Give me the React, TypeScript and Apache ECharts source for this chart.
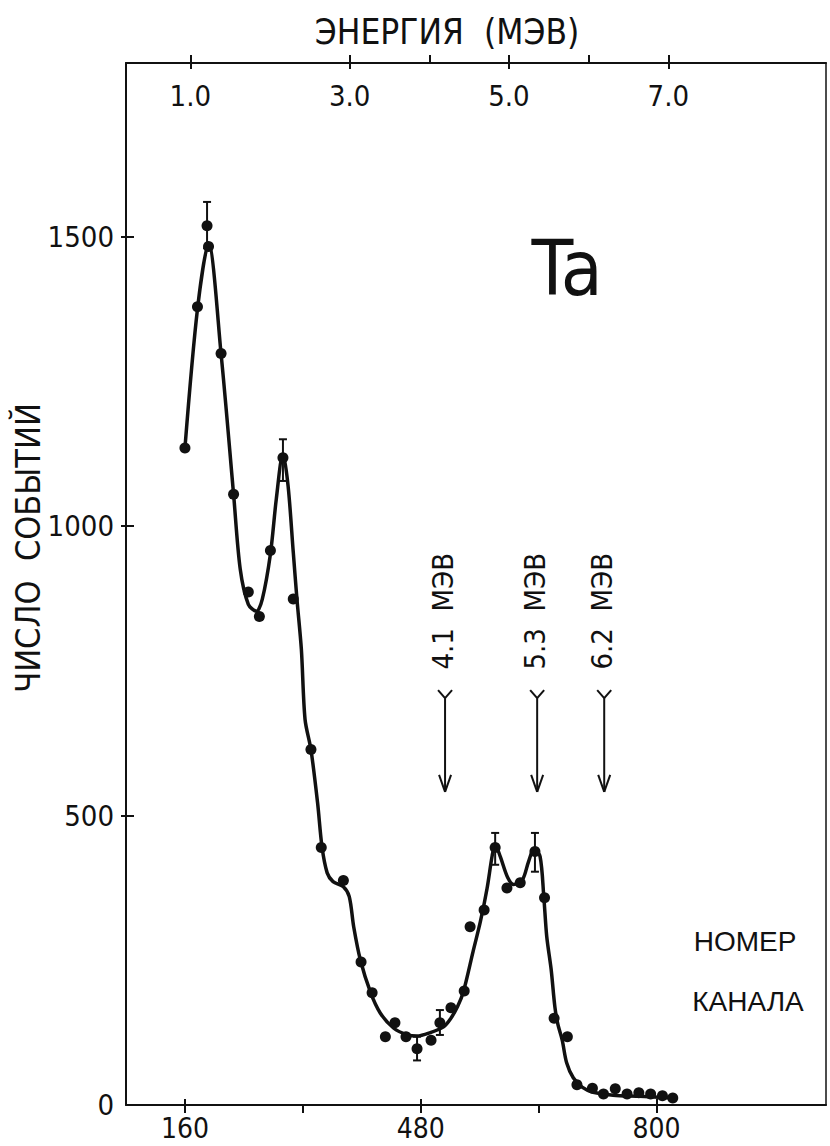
import React, { useEffect, useRef } from "react";
import * as echarts from "echarts";

// Axis ticks / labels
const channelTicks = [160, 320, 480, 640, 800];
const channelLabels = [160, 480, 800];
const energyTicks = [1, 3, 4, 5, 6, 7];
const energyLabels = [1, 3, 5, 7];
const countTicks = [500, 1000, 1500];
const countLabels = [0, 500, 1000, 1500];

// Measured points (channel number, number of events)
const pointChannels = [160, 177, 190, 192, 209, 226, 246, 261, 276, 293, 307, 331, 345, 375, 399, 414, 432, 445, 460, 475, 494, 506, 521, 539, 547, 566, 581, 597, 615, 635, 648, 661, 679, 692, 713, 728, 744, 760, 776, 792, 808, 822];
const pointCounts = [1135, 1379, 1519, 1483, 1298, 1055, 886, 844, 958, 1118, 874, 614, 445, 388, 247, 194, 118, 142, 118, 97, 112, 142, 168, 197, 308, 337, 445, 375, 384, 438, 358, 150, 118, 35, 29, 19, 28, 19, 21, 19, 16, 12];

// Fitted curve (hand-drawn in the original)
const curveChannels = [160, 177, 192, 209, 226, 235, 246, 257, 265, 276, 284, 293, 300, 307, 312, 318, 323, 331, 340, 346, 353, 361, 375, 383, 389, 398, 412, 425, 443, 462, 475, 493, 511, 520, 530, 538, 551, 561, 570, 577, 581, 588, 598, 606, 618, 626, 634, 642, 647, 651, 657, 662, 666, 672, 678, 687, 699, 714, 741, 777, 822];
const curveCounts = [1135, 1375, 1488, 1298, 1055, 926, 865, 853, 874, 952, 1047, 1125, 1069, 955, 874, 787, 666, 614, 522, 446, 401, 386, 377, 360, 308, 251, 194, 159, 133, 121, 119, 125, 135, 148, 170, 196, 265, 317, 374, 431, 450, 429, 393, 381, 389, 419, 443, 429, 360, 291, 234, 170, 140, 112, 73, 47, 31, 22, 17, 15, 12];

// Error bars
const errChannels = [190, 293, 475, 506, 581, 635];
const errLow = [1480, 1078, 77, 121, 415, 403];
const errHigh = [1560, 1150, 118, 164, 470, 470];

// Energy markers (arrows)
const arrowChannels = [513, 638, 729];
const arrowLabels = ["4.1  МЭВ", "5.3  МЭВ", "6.2  МЭВ"];
const arrowTop = 703;
const arrowBottom = 541;
const arrowLabelCenter = 853;

const FONT = "'DejaVu Sans Condensed', 'Liberation Sans Narrow', 'DejaVu Sans', sans-serif";
const FONT2 = "'Liberation Sans', 'DejaVu Sans', sans-serif";
const INK = "#111";

export default function App() {
  const ref = useRef<HTMLDivElement>(null);
  useEffect(() => {
    if (!ref.current) return;
    const chart = echarts.init(ref.current, undefined, { renderer: "svg" });

    const axisBase = {
      type: "value" as const,
      min: 80,
      max: 1030,
      splitLine: { show: false },
    };

    const option: any = {
      animation: false,
      backgroundColor: "#fff",
      grid: { left: 126, right: 4, top: 63, bottom: 41 },
      xAxis: [
        {
          ...axisBase,
          position: "bottom",
          axisLine: { show: true, onZero: false, lineStyle: { color: INK, width: 2 } },
          axisTick: { show: true, customValues: channelTicks, length: 8, lineStyle: { color: INK, width: 2 } },
          axisLabel: { customValues: channelLabels, fontSize: 28, fontFamily: FONT, color: INK, margin: 9, formatter: (v: number) => String(v) },
        },
        {
          ...axisBase,
          position: "bottom",
          axisLine: { show: false, onZero: false },
          axisTick: { show: true, inside: true, customValues: channelLabels, length: 6, lineStyle: { color: INK, width: 2 } },
          axisLabel: { show: false },
        },
        {
          type: "value",
          min: 0.193,
          max: 8.98,
          position: "top",
          splitLine: { show: false },
          axisLine: { show: true, onZero: false, lineStyle: { color: INK, width: 2 } },
          axisTick: { show: true, customValues: energyTicks, length: 8, lineStyle: { color: INK, width: 2 } },
          axisLabel: {
            inside: true,
            customValues: energyLabels,
            formatter: (v: number) => v.toFixed(1),
            fontSize: 29,
            fontFamily: FONT,
            color: INK,
            margin: 18,
          },
        },
        {
          type: "value",
          min: 0.193,
          max: 8.98,
          position: "top",
          splitLine: { show: false },
          axisLine: { show: false, onZero: false },
          axisTick: { show: true, inside: true, customValues: energyLabels, length: 6, lineStyle: { color: INK, width: 2 } },
          axisLabel: { show: false },
        },
      ],
      yAxis: [
        {
          type: "value",
          min: 0,
          max: 1800,
          position: "left",
          splitLine: { show: false },
          axisLine: { show: true, onZero: false, lineStyle: { color: INK, width: 2 } },
          axisTick: { show: true, customValues: countTicks, length: 5, lineStyle: { color: INK, width: 2 } },
          axisLabel: { customValues: countLabels, fontSize: 29, fontFamily: FONT, color: INK, margin: 12, formatter: (v: number) => String(v) },
        },
        {
          type: "value",
          min: 0,
          max: 1800,
          position: "left",
          splitLine: { show: false },
          axisLine: { show: false, onZero: false },
          axisTick: { show: true, inside: true, customValues: countTicks, length: 8, lineStyle: { color: INK, width: 2 } },
          axisLabel: { show: false },
        },
        {
          type: "value",
          min: 0,
          max: 1800,
          position: "right",
          splitLine: { show: false },
          axisLine: { show: true, onZero: false, lineStyle: { color: INK, width: 1.5 } },
          axisTick: { show: false },
          axisLabel: { show: false },
        },
      ],
      series: [
        {
          type: "line",
          xAxisIndex: 0,
          yAxisIndex: 0,
          data: curveChannels.map((c, i) => [c, curveCounts[i]]),
          smooth: 0.3,
          showSymbol: false,
          symbol: "none",
          lineStyle: { color: INK, width: 3.5 },
          z: 2,
        },
        {
          type: "scatter",
          xAxisIndex: 0,
          yAxisIndex: 0,
          data: pointChannels.map((c, i) => [c, pointCounts[i]]),
          symbol: "circle",
          symbolSize: 11,
          itemStyle: { color: INK, opacity: 1 },
          z: 3,
        },
        {
          type: "custom",
          xAxisIndex: 0,
          yAxisIndex: 0,
          data: errChannels.map((c, i) => [c, errLow[i], errHigh[i]]),
          renderItem: (params: any, api: any) => {
            const lo = api.coord([api.value(0), api.value(1)]);
            const hi = api.coord([api.value(0), api.value(2)]);
            const w = 4;
            const st = { stroke: INK, lineWidth: 2 };
            return {
              type: "group",
              children: [
                { type: "line", shape: { x1: lo[0], y1: lo[1], x2: hi[0], y2: hi[1] }, style: st },
                { type: "line", shape: { x1: lo[0] - w, y1: lo[1], x2: lo[0] + w, y2: lo[1] }, style: st },
                { type: "line", shape: { x1: hi[0] - w, y1: hi[1], x2: hi[0] + w, y2: hi[1] }, style: st },
              ],
            };
          },
          z: 4,
        },
        {
          type: "custom",
          xAxisIndex: 0,
          yAxisIndex: 0,
          data: arrowChannels.map((c) => [c, arrowTop, arrowBottom, arrowLabelCenter]),
          renderItem: (params: any, api: any) => {
            const top = api.coord([api.value(0), api.value(1)]);
            const bot = api.coord([api.value(0), api.value(2)]);
            const lab = api.coord([api.value(0), api.value(3)]);
            const st = { stroke: INK, lineWidth: 2 };
            const x = top[0];
            return {
              type: "group",
              children: [
                { type: "line", shape: { x1: x, y1: top[1], x2: x, y2: bot[1] }, style: st },
                { type: "line", shape: { x1: x, y1: top[1], x2: x - 7, y2: top[1] - 8 }, style: st },
                { type: "line", shape: { x1: x, y1: top[1], x2: x + 7, y2: top[1] - 8 }, style: st },
                { type: "line", shape: { x1: x, y1: bot[1], x2: x - 6, y2: bot[1] - 17 }, style: st },
                { type: "line", shape: { x1: x, y1: bot[1], x2: x + 6, y2: bot[1] - 17 }, style: st },
                {
                  type: "text",
                  x: x - 2,
                  y: lab[1],
                  rotation: Math.PI / 2,
                  style: {
                    text: arrowLabels[params.dataIndex],
                    fontSize: 29,
                    fontFamily: FONT,
                    fill: INK,
                    align: "center",
                    verticalAlign: "middle",
                  },
                },
              ],
            };
          },
          z: 4,
        },
      ],
      graphic: [
        {
          type: "text",
          x: 447,
          y: 32,
          style: { text: "ЭНЕРГИЯ  (МЭВ)", fontSize: 35, fontFamily: FONT, fill: INK, align: "center", verticalAlign: "middle" },
        },
        {
          type: "text",
          x: 28,
          y: 548,
          rotation: Math.PI / 2,
          style: { text: "ЧИСЛО  СОБЫТИЙ", fontSize: 34, fontFamily: FONT, fill: INK, align: "center", verticalAlign: "middle" },
        },
        {
          type: "text",
          x: 567,
          y: 268,
          style: { text: "Ta", fontSize: 76, fontFamily: "'DejaVu Sans Condensed', 'DejaVu Sans', sans-serif", fill: INK, align: "center", verticalAlign: "middle" },
        },
        {
          type: "text",
          x: 745,
          y: 941,
          style: { text: "НОМЕР", fontSize: 28, fontFamily: FONT2, fill: INK, align: "center", verticalAlign: "middle" },
        },
        {
          type: "text",
          x: 748,
          y: 1001,
          style: { text: "КАНАЛА", fontSize: 28, fontFamily: FONT2, fill: INK, align: "center", verticalAlign: "middle" },
        },
      ],
    };

    chart.setOption(option);
    return () => chart.dispose();
  }, []);

  return (
    <div
      ref={ref}
      style={{ position: "absolute", left: 0, top: 0, width: 830, height: 1146, background: "#fff" }}
    />
  );
}
